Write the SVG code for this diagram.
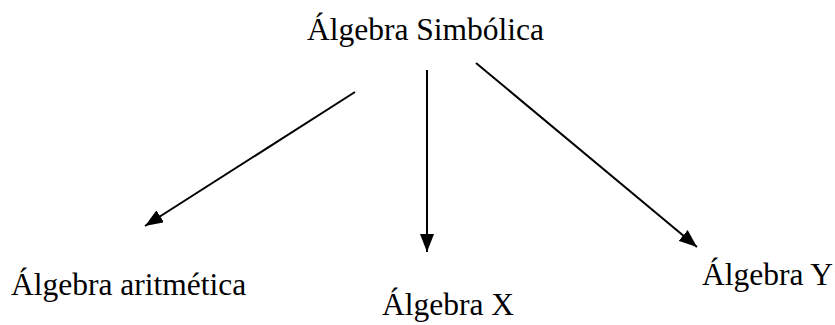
<svg xmlns="http://www.w3.org/2000/svg" width="835" height="325" viewBox="0 0 835 325">
<defs>
<marker id="ah" viewBox="0 0 18 14" refX="18" refY="7" markerWidth="18" markerHeight="14" markerUnits="userSpaceOnUse" orient="auto">
<path d="M0,0 L18,7 L0,14 Z" fill="#000"/>
</marker>
</defs>
<style>
text{font-family:"Liberation Serif","Times New Roman",serif;font-size:31.5px;fill:#000}
.c{stroke:#000;stroke-width:2;fill:none;marker-end:url(#ah)}
</style>
<rect width="835" height="325" fill="#fff"/>
<g id="connectors">
<line class="c" x1="355" y1="92" x2="145" y2="226"/>
<line class="c" x1="427" y1="70" x2="427" y2="252"/>
<line class="c" x1="476" y1="63" x2="697" y2="247"/>
</g>
<g id="n-simbolica"><text x="307" y="40">Álgebra Simbólica</text></g>
<g id="n-aritmetica"><text x="11" y="295">Álgebra aritmética</text></g>
<g id="n-x"><text x="382" y="315">Álgebra X</text></g>
<g id="n-y"><text x="702" y="285">Álgebra Y</text></g>
</svg>
